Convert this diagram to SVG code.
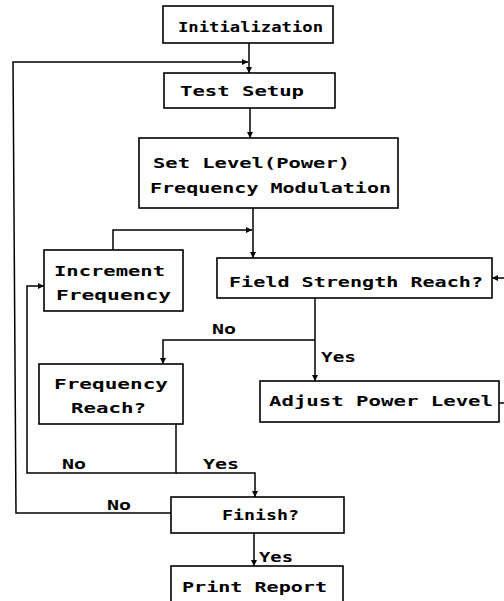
<svg xmlns="http://www.w3.org/2000/svg" width="504" height="601" viewBox="0 0 504 601">
<defs>
<style>
.box{fill:#fff;stroke:#000;stroke-width:1.6}
.t{font-family:"DejaVu Sans Mono","Liberation Mono",monospace;font-weight:bold;font-size:14px;fill:#000}
.c{fill:none;stroke:#000;stroke-width:1.5}
</style>
<marker id="ah" viewBox="0 0 10 10" refX="10" refY="5" markerWidth="6" markerHeight="6" markerUnits="userSpaceOnUse" orient="auto">
<path d="M0,0 L10,5 L0,10 Z" fill="#000"/>
</marker>
</defs>
<rect width="504" height="601" fill="#fff"/>
<g id="connectors">
<path class="c" d="M249,43 V73" marker-end="url(#ah)"/>
<path class="c" d="M171,513 H16 L13,62 H248" marker-end="url(#ah)"/>
<path class="c" d="M250,108 V138" marker-end="url(#ah)"/>
<path class="c" d="M253,208 V258" marker-end="url(#ah)"/>
<path class="c" d="M113,250 V230 H252" marker-end="url(#ah)"/>
<path class="c" d="M315,298 V381" marker-end="url(#ah)"/>
<path class="c" d="M315,340 H163 V364" marker-end="url(#ah)"/>
<path class="c" d="M499,403 H512 V278 H492" marker-end="url(#ah)"/>
<path class="c" d="M176,424 V473 H27 V286 H44" marker-end="url(#ah)"/>
<path class="c" d="M176,473 H255 V497" marker-end="url(#ah)"/>
<path class="c" d="M254,533 V566" marker-end="url(#ah)"/>
<text class="t" x="212" y="334" textLength="24" lengthAdjust="spacingAndGlyphs">No</text>
<text class="t" x="321" y="362" textLength="35" lengthAdjust="spacingAndGlyphs">Yes</text>
<text class="t" x="62" y="469" textLength="24" lengthAdjust="spacingAndGlyphs">No</text>
<text class="t" x="203" y="469" textLength="36" lengthAdjust="spacingAndGlyphs">Yes</text>
<text class="t" x="107" y="510" textLength="24" lengthAdjust="spacingAndGlyphs">No</text>
<text class="t" x="259" y="562" textLength="34" lengthAdjust="spacingAndGlyphs">Yes</text>
</g>
<g id="init">
<rect class="box" x="163" y="6" width="170" height="37"/>
<text class="t" x="178" y="32" textLength="145" lengthAdjust="spacingAndGlyphs">Initialization</text>
</g>
<g id="setup">
<rect class="box" x="164" y="73" width="171" height="35"/>
<text class="t" x="180" y="96" textLength="124" lengthAdjust="spacingAndGlyphs">Test Setup</text>
</g>
<g id="setlevel">
<rect class="box" x="139" y="138" width="259" height="70"/>
<text class="t" x="153" y="168" textLength="197" lengthAdjust="spacingAndGlyphs">Set Level(Power)</text>
<text class="t" x="150" y="193" textLength="241" lengthAdjust="spacingAndGlyphs">Frequency Modulation</text>
</g>
<g id="increment">
<rect class="box" x="44" y="250" width="139" height="61"/>
<text class="t" x="54" y="276" textLength="111" lengthAdjust="spacingAndGlyphs">Increment</text>
<text class="t" x="56" y="300" textLength="115" lengthAdjust="spacingAndGlyphs">Frequency</text>
</g>
<g id="fieldstrength">
<rect class="box" x="217" y="258" width="275" height="40"/>
<text class="t" x="229" y="287" textLength="254" lengthAdjust="spacingAndGlyphs">Field Strength Reach?</text>
</g>
<g id="freqreach">
<rect class="box" x="39" y="364" width="144" height="60"/>
<text class="t" x="54" y="389" textLength="114" lengthAdjust="spacingAndGlyphs">Frequency</text>
<text class="t" x="71" y="413" textLength="75" lengthAdjust="spacingAndGlyphs">Reach?</text>
</g>
<g id="adjust">
<rect class="box" x="260" y="381" width="239" height="41"/>
<text class="t" x="269" y="406" textLength="224" lengthAdjust="spacingAndGlyphs">Adjust Power Level</text>
</g>
<g id="finish">
<rect class="box" x="171" y="497" width="173" height="36"/>
<text class="t" x="222" y="520" textLength="77" lengthAdjust="spacingAndGlyphs">Finish?</text>
</g>
<g id="report">
<rect class="box" x="171" y="566" width="172" height="50"/>
<text class="t" x="182" y="592" textLength="145" lengthAdjust="spacingAndGlyphs">Print Report</text>
</g>
</svg>
